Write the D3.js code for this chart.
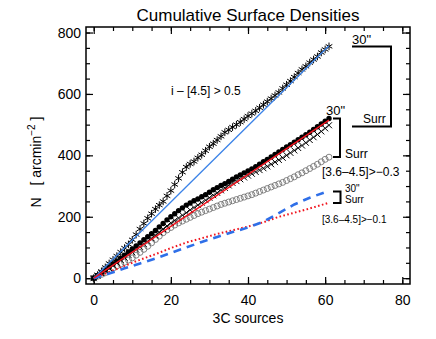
<!DOCTYPE html>
<html>
<head>
<meta charset="utf-8">
<script src="https://cdn.jsdelivr.net/npm/d3@7"></script>
<style>
  body { margin: 0; background: #fff; }
  svg text { font-family: "Liberation Sans", Arial, sans-serif; fill: #000; }
</style>
</head>
<body>
<svg id="chart" width="436" height="339"></svg>
<script>
// cumulative counts, one value per 3C source (0..61)
var starsAll = [0,10,22,35,48,60,72,85,98,110,125,142,160,178,195,210,225,238,250,268,285,305,325,345,362,372,380,392,402,415,428,438,450,462,475,483,492,500,508,518,528,536,545,555,565,575,585,595,605,618,630,642,655,668,680,690,702,712,722,735,745,755];
var fillCirc = [0,9,18,27,36,46,55,65,75,85,95,105,115,125,135,145,155,167,178,190,200,210,220,229,238,245,252,258,265,272,280,288,295,302,308,315,322,330,336,343,349,356,363,371,379,387,395,403,411,419,427,435,443,451,459,467,475,484,493,502,511,520];
var crosses = [0,8,16,25,33,42,50,59,67,76,84,93,102,111,120,130,140,150,160,170,180,188,196,205,213,222,230,238,246,254,262,270,278,286,294,302,310,316,322,328,334,340,346,352,358,364,371,378,385,392,400,408,416,424,432,441,450,459,468,478,488,498];
var openCirc = [0,6,12,18,25,32,40,46,52,59,66,75,84,94,104,115,126,137,148,157,165,173,180,186,192,198,204,210,215,220,225,230,235,240,244,248,252,256,260,264,268,272,277,282,287,292,297,302,307,312,318,324,330,337,343,350,357,364,371,379,387,394];

// [3.6-4.5] > -0.1 curves
var lineX = [0,4,8,12,16,20,24,28,32,36,40,44,48,52,56,60,61];
var dash30 = [0,15,32,48,64,82,100,118,134,150,165,184,212,240,262,280,285];
var dotSurr = [0,20,40,60,78,98,116,130,144,156,168,182,200,213,227,242,246];

// straight fits
var fitX = [0,61];
var fitBlue = [0,757];
var fitRed = [0,515];

var xTicks = [0,20,40,60,80];
var yTicks = [0,200,400,600,800];

var svg = d3.select("#chart");
var L = 86, R = 410, T = 27, B = 284;

var x = d3.scaleLinear().domain([-2, 82]).range([L, R]);
var y = d3.scaleLinear().domain([-19, 818]).range([B, T]);

var sources = d3.range(starsAll.length);

// title
svg.append("text")
    .attr("x", 248).attr("y", 21)
    .attr("text-anchor", "middle")
    .style("font-size", "17px")
    .text("Cumulative Surface Densities");

// axes
function ticks(axis, pos, vals, size, labels){
    var g = svg.append("g").attr("transform", pos)
        .call(axis.tickValues(vals).tickSize(size).tickPadding(labels ? 5 : 0)
              .tickFormat(labels ? d3.format("d") : ""));
    g.select(".domain").remove();
    g.selectAll("line").attr("stroke", "#000").attr("stroke-width", 1.2);
    g.selectAll("text").style("font-size", "14px").attr("fill", "#000");
    return g;
}
var xMinor = d3.range(0, 81, 5), yMinor = d3.range(0, 801, 50);
var gx = ticks(d3.axisBottom(x), "translate(0," + B + ")", xTicks, -7, true);
gx.selectAll("text").attr("y", 11);
ticks(d3.axisBottom(x), "translate(0," + B + ")", xMinor, -4, false);
ticks(d3.axisTop(x), "translate(0," + T + ")", xTicks, -7, false);
ticks(d3.axisTop(x), "translate(0," + T + ")", xMinor, -4, false);
ticks(d3.axisLeft(y), "translate(" + L + ",0)", yTicks, -7, true);
ticks(d3.axisLeft(y), "translate(" + L + ",0)", yMinor, -4, false);
ticks(d3.axisRight(y), "translate(" + R + ",0)", yTicks, -7, false);
ticks(d3.axisRight(y), "translate(" + R + ",0)", yMinor, -4, false);

svg.append("rect")
    .attr("x", L).attr("y", T).attr("width", R - L).attr("height", B - T)
    .attr("fill", "none").attr("stroke", "#000").attr("stroke-width", 1.5);

svg.append("text")
    .attr("x", 248).attr("y", 323)
    .attr("text-anchor", "middle")
    .style("font-size", "14px")
    .text("3C sources");

var yl = svg.append("text")
    .attr("transform", "translate(41,162) rotate(-90)")
    .attr("text-anchor", "middle")
    .style("font-size", "14px")
    .style("white-space", "pre");
yl.append("tspan").text("N   [ arcmin");
yl.append("tspan").attr("dy", -6).style("font-size", "10px").text("\u22122");
yl.append("tspan").attr("dy", 6).text(" ]");

// markers
var plot = svg.append("g");

plot.selectAll(".oc").data(sources).enter().append("circle")
    .attr("class", "oc")
    .attr("cx", function(i){ return x(i); })
    .attr("cy", function(i){ return y(openCirc[i]); })
    .attr("r", 3)
    .attr("fill", "none").attr("stroke", "#666").attr("stroke-width", 0.8);

plot.selectAll(".cr").data(sources).enter().append("path")
    .attr("class", "cr")
    .attr("transform", function(i){ return "translate(" + x(i) + "," + y(crosses[i]) + ")"; })
    .attr("d", "M-3,-3L3,3M-3,3L3,-3")
    .attr("stroke", "#000").attr("stroke-width", 1);

plot.selectAll(".fc").data(sources).enter().append("circle")
    .attr("class", "fc")
    .attr("cx", function(i){ return x(i); })
    .attr("cy", function(i){ return y(fillCirc[i]); })
    .attr("r", 2.7)
    .attr("fill", "#000");

plot.selectAll(".st").data(sources).enter().append("path")
    .attr("class", "st")
    .attr("transform", function(i){ return "translate(" + x(i) + "," + y(starsAll[i]) + ")"; })
    .attr("d", "M0,-3.8L0,3.8M-3.3,-1.9L3.3,1.9M-3.3,1.9L3.3,-1.9")
    .attr("stroke", "#000").attr("stroke-width", 1);

// lines
var line = function(xs, ys){
    return d3.line().x(function(d, i){ return x(xs[i]); }).y(function(d){ return y(d); })(ys);
};

plot.append("path").attr("d", line(lineX, dotSurr))
    .attr("fill", "none").attr("stroke", "#f0141e").attr("stroke-width", 2)
    .attr("stroke-dasharray", "1.6,2.4");
plot.append("path").attr("d", line(lineX, dash30))
    .attr("fill", "none").attr("stroke", "#2f6fe8").attr("stroke-width", 2.6)
    .attr("stroke-dasharray", "8,6");
plot.append("path").attr("d", line(fitX, fitBlue))
    .attr("fill", "none").attr("stroke", "#3b83e8").attr("stroke-width", 1.3);
plot.append("path").attr("d", line(fitX, fitRed))
    .attr("fill", "none").attr("stroke", "#f0141e").attr("stroke-width", 1.5);

// annotations
function label(tx, ty, s, size){
    svg.append("text").attr("x", tx).attr("y", ty).style("font-size", size + "px").text(s);
}
function bracket(x0, x1, y0, y1, w){
    svg.append("path")
        .attr("d", "M" + x0 + "," + y0 + "H" + x1 + "V" + y1 + "H" + x0)
        .attr("fill", "none").attr("stroke", "#000").attr("stroke-width", w);
}

label(171, 95, "i \u2013 [4.5] > 0.5", 12);

bracket(352, 391, 46.5, 126.5, 2);
label(352, 44, "30\"", 13);
label(363, 123, "Surr", 12);

bracket(333, 340, 118.5, 157, 2);
label(326, 115, "30\"", 13);
label(345, 158, "Surr", 12);
label(322, 176, "[3.6\u20134.5]>\u22120.3", 12);

bracket(333, 340.5, 191.5, 203, 2);
label(345, 192, "30\"", 10);
label(345, 203, "Surr", 10);
label(322, 223, "[3.6\u20134.5]>\u22120.1", 10);
</script>
</body>
</html>
